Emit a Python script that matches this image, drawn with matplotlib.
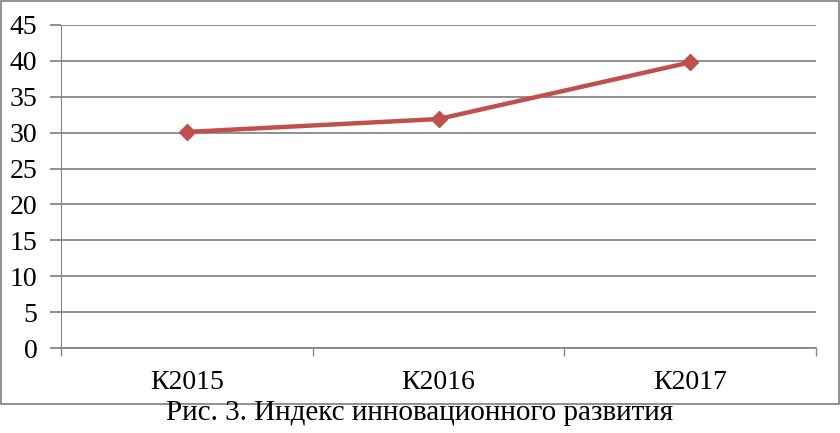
import matplotlib.pyplot as plt
from matplotlib.patches import Rectangle

categories = ['К2015', 'К2016', 'К2017']
values = [30.1, 31.9, 39.8]
y_ticks = [0, 5, 10, 15, 20, 25, 30, 35, 40, 45]

plt.rcParams['font.family'] = ['Liberation Serif', 'DejaVu Serif']

fig = plt.figure(figsize=(8.4, 4.33), dpi=100)
ax = fig.add_axes([61 / 840, 1 - 348 / 433, (816 - 61) / 840, (348 - 25) / 433])

grid_color = '#878787'
x_pos = [i + 0.5 for i in range(len(categories))]
ax.plot(x_pos, values, color='#C0504D', linewidth=3.2, marker='D',
        markersize=8, zorder=3)

ax.set_xlim(0, len(categories))
ax.set_ylim(0, 45)
ax.set_yticks(y_ticks)
ax.yaxis.grid(True, color=grid_color, linewidth=1.3)
ax.set_axisbelow(True)

ax.set_xticks(range(len(categories) + 1))
ax.set_xticklabels([])
ax.set_xticks(x_pos, minor=True)
ax.set_xticklabels(categories, minor=True)
ax.tick_params(axis='x', which='major', length=6, color=grid_color, width=1)
ax.tick_params(axis='x', which='minor', length=0, pad=16, labelsize=20)
ax.tick_params(axis='y', length=8, color=grid_color, width=1.3, pad=9, labelsize=20)

for s in ['top', 'right']:
    ax.spines[s].set_visible(False)
ax.spines['left'].set_color(grid_color)
ax.spines['bottom'].set_color(grid_color)
ax.spines['bottom'].set_linewidth(1.3)

fig.patches.append(Rectangle((1 / 840, 1 - 404 / 433), 838 / 840, 403 / 433,
                             transform=fig.transFigure, fill=False,
                             edgecolor='#888888', linewidth=1.3))
fig.text(0.5, 1 - 413 / 433, 'Рис. 3. Индекс инновационного развития',
         ha='center', va='center', fontsize=21)

fig.savefig('out.png', dpi=100)
